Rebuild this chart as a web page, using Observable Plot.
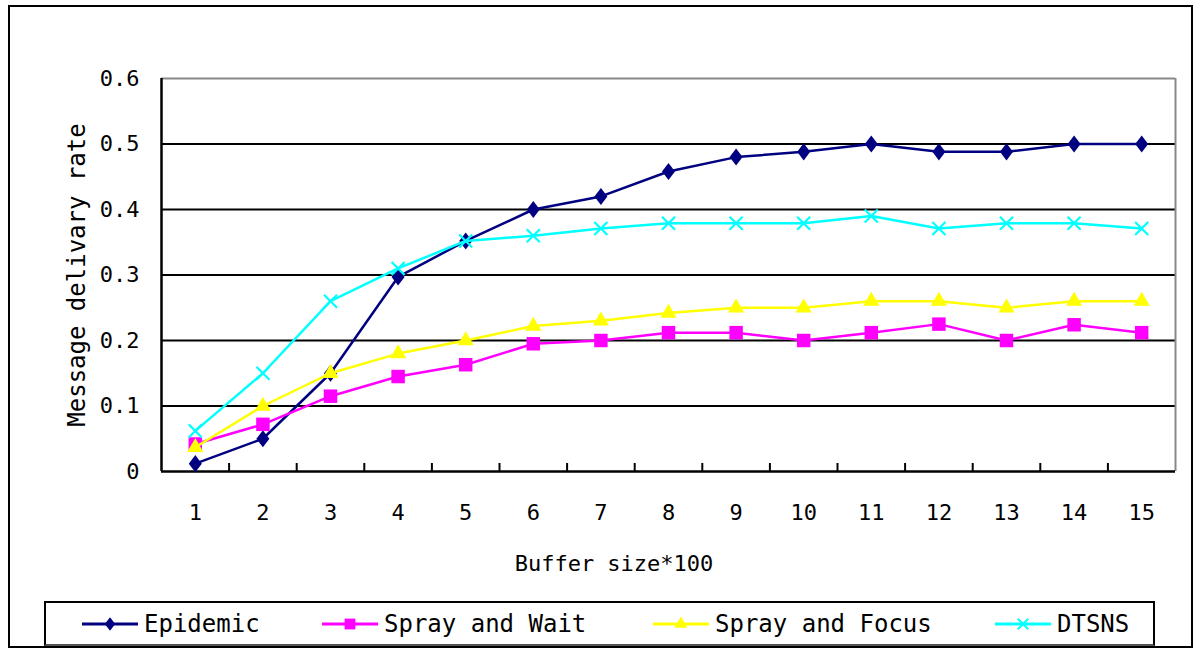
<!DOCTYPE html>
<html>
<head>
<meta charset="utf-8">
<script src="https://cdn.jsdelivr.net/npm/d3@7"></script>
<script src="https://cdn.jsdelivr.net/npm/@observablehq/plot@0.6"></script>
<style>
  html, body { margin: 0; padding: 0; background: #fff; }
  body { width: 1200px; height: 651px; position: relative; overflow: hidden; font-family: "DejaVu Sans Mono", "Liberation Mono", monospace; }
  #frame { position: absolute; left: 8px; top: 5px; width: 1185px; height: 643px; border: 2px solid #000; box-sizing: border-box; }
  #chart { position: absolute; left: 0; top: 0; }
  .title { position: absolute; font-size: 22px; color: #000; white-space: nowrap; }
  #xtitle { left: 614px; top: 563px; transform: translate(-50%, -50%); }
  #ytitle { left: 77px; top: 275px; transform: translate(-50%, -50%) rotate(-90deg); font-size: 24px; }
  #legend { position: absolute; left: 44px; top: 601px; width: 1111px; height: 45px; border: 2px solid #000; border-bottom-color: #555; box-sizing: border-box; }
  .item { position: absolute; top: 0; height: 41px; display: flex; align-items: center; font-size: 24px; white-space: nowrap; }
  .item svg { margin-right: 6px; }
</style>
</head>
<body>
<div id="frame"></div>
<div id="chart"></div>
<div class="title" id="xtitle"></div>
<div class="title" id="ytitle"></div>
<div id="legend"></div>
<script>
// ---- data ----
const buffer = [1, 2, 3, 4, 5, 6, 7, 8, 9, 10, 11, 12, 13, 14, 15];
const epidemic   = [0.012, 0.05, 0.15, 0.297, 0.352, 0.40, 0.42, 0.458, 0.48, 0.488, 0.50, 0.488, 0.488, 0.50, 0.50];
const sprayWait  = [0.042, 0.072, 0.115, 0.145, 0.163, 0.195, 0.20, 0.212, 0.212, 0.20, 0.212, 0.225, 0.20, 0.224, 0.212];
const sprayFocus = [0.037, 0.10, 0.15, 0.18, 0.20, 0.222, 0.23, 0.242, 0.25, 0.25, 0.26, 0.26, 0.25, 0.26, 0.26];
const dtsns      = [0.062, 0.15, 0.26, 0.31, 0.352, 0.36, 0.371, 0.379, 0.379, 0.379, 0.39, 0.371, 0.379, 0.379, 0.371];
const seriesNames = ["Epidemic", "Spray and Wait", "Spray and Focus", "DTSNS"];
const yTicks = [0, 0.1, 0.2, 0.3, 0.4, 0.5, 0.6];
const xTitle = "Buffer size*100";
const yTitle = "Message delivary rate";

// ---- styles ----
const seriesValues = [epidemic, sprayWait, sprayFocus, dtsns];
const colors = ["#000080", "#FF00FF", "#FFFF00", "#00FFFF"];
const wideDiamond = {
  draw(ctx, size) {
    const s = Math.sqrt(size), hy = 0.89 * s, hx = 0.68 * s;
    ctx.moveTo(0, -hy); ctx.lineTo(hx, 0); ctx.lineTo(0, hy); ctx.lineTo(-hx, 0); ctx.closePath();
  }
};
const symbols = [wideDiamond, d3.symbolSquare, d3.symbolTriangle, d3.symbolTimes];
const stroked = [false, false, false, true];
const radii = [5.4, 7.6, 6, 6];

const rows = seriesNames.map((name, s) => buffer.map((b, i) => ({ name, buffer: b, rate: seriesValues[s][i] })));
const boundaries = buffer.slice(0, -1).map(b => b + 0.5);

const W = 1200, H = 590;
const mL = 161, mR = 25, mT = 78, mB = 119;
const frameH = H - mT - mB;

const marks = [
  Plot.ruleY(yTicks.slice(1, -1), { stroke: "#000", strokeWidth: 2 }),
  Plot.ruleY([yTicks[yTicks.length - 1]], { stroke: "#888", strokeWidth: 2 }),
  Plot.ruleX([buffer[buffer.length - 1] + 0.5], { stroke: "#888", strokeWidth: 2 }),
  Plot.ruleX(boundaries, { stroke: "#000", strokeWidth: 2, insetTop: frameH - 8 }),
  Plot.ruleX([buffer[0] - 0.5], { stroke: "#000", strokeWidth: 2.5 }),
  Plot.ruleY([0], { stroke: "#000", strokeWidth: 2.5 })
];
rows.forEach((r, s) => {
  marks.push(Plot.line(r, { x: "buffer", y: "rate", stroke: colors[s], strokeWidth: 2.5 }));
  if (stroked[s]) {
    marks.push(Plot.dot(r, { x: "buffer", y: "rate", symbol: symbols[s], r: radii[s], stroke: colors[s], strokeWidth: 2.2 }));
  } else {
    marks.push(Plot.dot(r, { x: "buffer", y: "rate", symbol: symbols[s], r: radii[s], fill: colors[s], stroke: "none" }));
  }
});

const chart = Plot.plot({
  width: W, height: H,
  marginLeft: mL, marginRight: mR, marginTop: mT, marginBottom: mB,
  style: { fontFamily: "DejaVu Sans Mono, Liberation Mono, monospace", fontSize: "22px", color: "#000", background: "transparent", overflow: "visible" },
  x: { type: "linear", domain: [buffer[0] - 0.5, buffer[buffer.length - 1] + 0.5], ticks: buffer, tickSize: 0, tickPadding: 33, tickFormat: d => String(d), label: null },
  y: { domain: [yTicks[0], yTicks[yTicks.length - 1]], ticks: yTicks, tickSize: 0, tickPadding: 22, tickFormat: d => d === 0 ? "0" : d.toFixed(1), label: null },
  marks
});
document.getElementById("chart").appendChild(chart);
document.getElementById("xtitle").textContent = xTitle;
document.getElementById("ytitle").textContent = yTitle;

// ---- legend ----
const legendLeft = [36, 276, 607, 949];
const legend = document.getElementById("legend");
const ns = "http://www.w3.org/2000/svg";
seriesNames.forEach((name, s) => {
  const item = document.createElement("div");
  item.className = "item";
  item.style.left = legendLeft[s] + "px";
  const svg = document.createElementNS(ns, "svg");
  svg.setAttribute("width", 56); svg.setAttribute("height", 20);
  const line = document.createElementNS(ns, "line");
  line.setAttribute("x1", 0); line.setAttribute("x2", 56); line.setAttribute("y1", 10); line.setAttribute("y2", 10);
  line.setAttribute("stroke", colors[s]); line.setAttribute("stroke-width", 3);
  svg.appendChild(line);
  const path = document.createElementNS(ns, "path");
  const size = Math.PI * Math.pow(radii[s] * 0.8, 2);
  path.setAttribute("d", d3.symbol(symbols[s], size)());
  path.setAttribute("transform", "translate(28,10)");
  if (stroked[s]) { path.setAttribute("fill", "none"); path.setAttribute("stroke", colors[s]); path.setAttribute("stroke-width", 2); }
  else path.setAttribute("fill", colors[s]);
  svg.appendChild(path);
  item.appendChild(svg);
  const t = document.createElement("span");
  t.textContent = name;
  item.appendChild(t);
  legend.appendChild(item);
});
</script>
</body>
</html>
